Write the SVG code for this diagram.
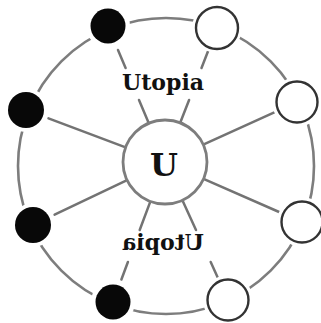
<svg xmlns="http://www.w3.org/2000/svg" width="321" height="323" viewBox="0 0 321 323">
<style>
.ring{fill:none;stroke:#7d7d7d;stroke-width:2.6}
.spoke{stroke:#737373;stroke-width:2.5;stroke-linecap:round}
.halo{fill:#fff}
.black{fill:#080808}
.white{fill:#fff;stroke:#333;stroke-width:2.4}
.hub{fill:#fff;stroke:#7d7d7d;stroke-width:2.8}
.lbl{font-family:"DejaVu Serif","Liberation Serif",serif;font-weight:bold;fill:#111;text-anchor:middle}
</style>
<rect width="321" height="323" fill="#fff"/>
<g id="connectors">
<circle class="ring" cx="166" cy="166" r="148"/>
<line class="spoke" x1="118" y1="50" x2="125.6" y2="68"/>
<line class="spoke" x1="139" y1="100" x2="148.8" y2="123.3"/>
<line class="spoke" x1="208.5" y1="50" x2="201.5" y2="68"/>
<line class="spoke" x1="189.1" y1="100" x2="180.2" y2="122.8"/>
<line class="spoke" x1="48.5" y1="118.4" x2="125.6" y2="147.3"/>
<line class="spoke" x1="274.3" y1="112.3" x2="203.2" y2="144.6"/>
<line class="spoke" x1="54.6" y1="214.7" x2="127.1" y2="180.1"/>
<line class="spoke" x1="279.1" y1="212" x2="203.5" y2="178.8"/>
<line class="spoke" x1="150.4" y1="201.4" x2="139.7" y2="230"/>
<line class="spoke" x1="127.9" y1="262" x2="121.4" y2="279.5"/>
<line class="spoke" x1="182.4" y1="200.2" x2="196" y2="230"/>
<line class="spoke" x1="210.7" y1="262" x2="217.6" y2="277.3"/>
</g>
<g id="hub">
<circle class="hub" cx="165" cy="162" r="42"/>
<text class="lbl" x="164" y="176" font-size="32">U</text>
</g>
<g id="label-top"><text class="lbl" x="163" y="90" font-size="22">Utopia</text></g>
<g id="label-bottom"><text class="lbl" x="163" y="250" font-size="22" transform="translate(326,0) scale(-1,1)">Utopia</text></g>
<g id="b1"><circle class="halo" cx="108" cy="26" r="22"/><circle class="black" cx="108" cy="26" r="17.5"/></g>
<g id="b2"><circle class="halo" cx="26" cy="110" r="22"/><circle class="black" cx="26" cy="110" r="18"/></g>
<g id="b3"><circle class="halo" cx="33" cy="225" r="22"/><circle class="black" cx="33" cy="225" r="18"/></g>
<g id="b4"><circle class="halo" cx="113" cy="302" r="22"/><circle class="black" cx="113" cy="302" r="17.5"/></g>
<g id="w1"><circle class="halo" cx="217" cy="28" r="25"/><circle class="white" cx="217" cy="28" r="21"/></g>
<g id="w2"><circle class="halo" cx="297" cy="102" r="25"/><circle class="white" cx="297" cy="102" r="20.5"/></g>
<g id="w3"><circle class="halo" cx="302" cy="222" r="25"/><circle class="white" cx="302" cy="222" r="20.5"/></g>
<g id="w4"><circle class="halo" cx="228" cy="300" r="25"/><circle class="white" cx="228" cy="300" r="20.5"/></g>
</svg>
